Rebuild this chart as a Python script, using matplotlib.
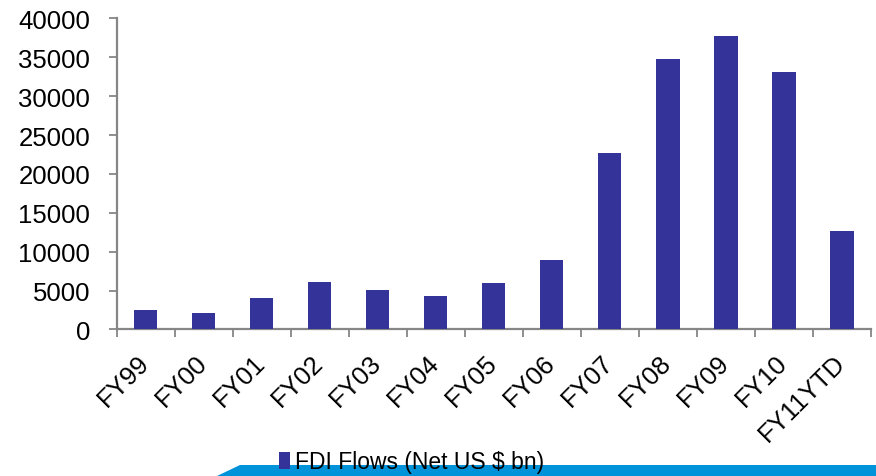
import matplotlib.pyplot as plt
import matplotlib.transforms as mtransforms
from matplotlib.patches import Polygon

plt.rcParams['font.family'] = ['Liberation Sans', 'DejaVu Sans']

years = ['FY99', 'FY00', 'FY01', 'FY02', 'FY03', 'FY04', 'FY05', 'FY06',
         'FY07', 'FY08', 'FY09', 'FY10', 'FY11YTD']
fdi = [2460, 2150, 4000, 6100, 5030, 4280, 5970, 8880,
       22730, 34740, 37700, 33150, 12620]
yticks = [0, 5000, 10000, 15000, 20000, 25000, 30000, 35000, 40000]

bar_color = '#333399'
axis_color = '#868686'

fig = plt.figure(figsize=(8.76, 4.77), dpi=100)
ax = fig.add_axes([0.1332, 0.3073, 0.8611, 0.652])

x = range(len(years))
bars = ax.bar(x, fdi, width=0.4, color=bar_color, zorder=3,
              label='FDI Flows (Net US $ bn)')

ax.set_xlim(-0.5, len(years) - 0.5)
ax.set_ylim(0, 40000)
ax.set_yticks(yticks)
ax.set_yticklabels([str(v) for v in yticks], fontsize=18.5)

# category ticks sit between the bars
ax.set_xticks([i - 0.5 for i in range(len(years) + 1)], minor=False)
ax.set_xticklabels([''] * (len(years) + 1))
ax.set_xticks(list(x), minor=True)
ax.set_xticklabels(years, minor=True, fontsize=18.5, rotation=45,
                   ha='right', va='top', rotation_mode='anchor')
ax.tick_params(axis='x', which='minor', length=0, pad=15)
ax.tick_params(axis='x', which='major', length=6, width=1.3, color=axis_color)
ax.tick_params(axis='y', length=6, width=1.3, color=axis_color, pad=13)

shift = mtransforms.ScaledTranslation(-9 / 100, 0, fig.dpi_scale_trans)
for lbl in ax.get_xticklabels(minor=True):
    lbl.set_transform(lbl.get_transform() + shift)

for side in ['top', 'right']:
    ax.spines[side].set_visible(False)
for side in ['left', 'bottom']:
    ax.spines[side].set_color(axis_color)
    ax.spines[side].set_linewidth(1.6)

# blue band along the bottom edge
band = Polygon([(217 / 876, 0), (240 / 876, 11 / 477), (1, 11 / 477), (1, 0)],
               closed=True, transform=fig.transFigure, facecolor='#0093d9',
               edgecolor='none', zorder=0)
fig.patches.append(band)

leg = fig.legend(handles=[bars], labels=['FDI Flows (Net US $ bn)'],
                 loc='center left', bbox_to_anchor=(0.318, 0.03),
                 frameon=False, prop={'size': 16.5},
                 handlelength=0.5, handleheight=0.75, handletextpad=0.2,
                 borderpad=0, borderaxespad=0)
leg.set_zorder(5)

fig.savefig('out.png', dpi=100)
